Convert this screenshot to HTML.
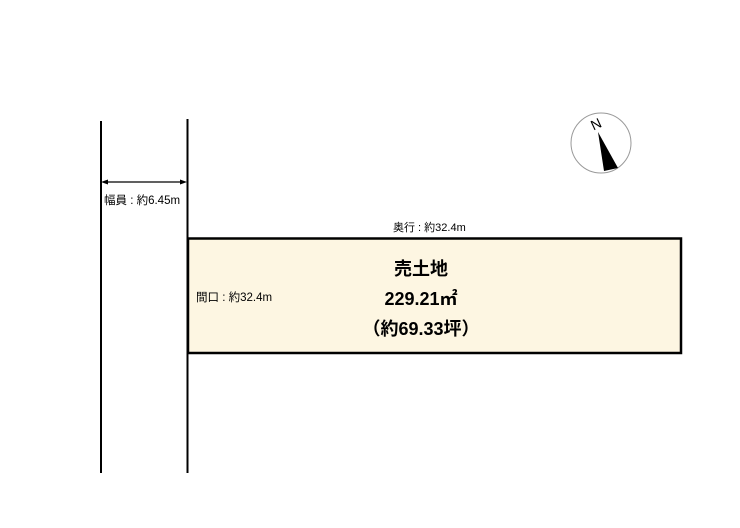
<!DOCTYPE html>
<html><head><meta charset="utf-8"><style>
body{margin:0;background:#fff;}
svg text{font-family:"Liberation Sans","Noto Sans CJK JP",sans-serif;}
</style></head><body>
<svg width="740" height="523" viewBox="0 0 740 523" xmlns="http://www.w3.org/2000/svg">
<line x1="101" y1="121" x2="101" y2="473" stroke="#000" stroke-width="2"/>
<line x1="187.5" y1="119" x2="187.5" y2="473" stroke="#000" stroke-width="2"/>
<line x1="104" y1="182" x2="184" y2="182" stroke="#000" stroke-width="1.2"/>
<polygon points="101,182 108,179.5 108,184.5" fill="#000"/>
<polygon points="187,182 180,179.5 180,184.5" fill="#000"/>
<text x="104" y="204" font-size="11.5" fill="#000">幅員 : 約6.45m</text>
<rect x="188" y="238.5" width="493" height="114.5" fill="#fdf6e2" stroke="#000" stroke-width="2.5"/>
<text x="393" y="231" font-size="11" fill="#000">奥行 : 約32.4m</text>
<text x="196" y="301" font-size="11.5" fill="#000">間口 : 約32.4m</text>
<text x="421" y="275" font-size="18" font-weight="bold" text-anchor="middle" fill="#000">売土地</text>
<text x="421" y="305" font-size="18" font-weight="bold" text-anchor="middle" fill="#000">229.21㎡</text>
<text x="421" y="335" font-size="18" font-weight="bold" text-anchor="middle" fill="#000">（約69.33坪）</text>
<circle cx="601" cy="143" r="30" fill="#fff" stroke="#999" stroke-width="1"/>
<polygon points="598,132 604,171 618,168" fill="#000"/>
<text x="596" y="129" font-size="14" font-family="Liberation Serif,serif" text-anchor="middle" transform="rotate(-25 596 124)" fill="#000">N</text>
</svg>
</body></html>
